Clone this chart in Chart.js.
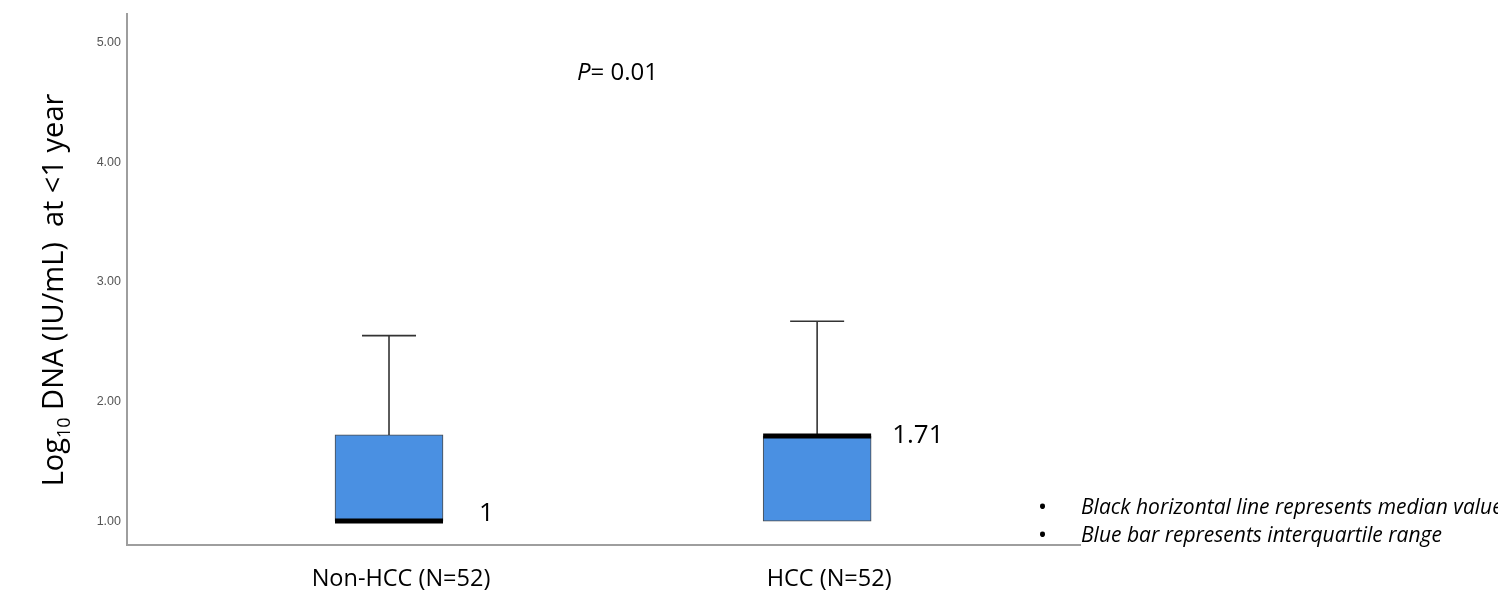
<!DOCTYPE html>
<html lang="en">
<head>
<meta charset="UTF-8">
<title>Log10 DNA at &lt;1 year</title>
<script src="https://cdn.jsdelivr.net/npm/chart.js"></script>
<style>
  html, body { margin: 0; padding: 0; background: #fff; }
  #chart { display: block; }
</style>
</head>
<body>
<canvas id="chart" width="1498" height="598"></canvas>
<script>
  // data
  const groups = ['Non-HCC (N=52)', 'HCC (N=52)'];
  const groupPos = [1, 2];
  const q1 = [1.00, 1.00];
  const q3 = [1.72, 1.71];
  const medians = [1.00, 1.71];
  const upper = [2.55, 2.67];
  const medianLabels = ['1', '1.71'];
  const yTicks = [1, 2, 3, 4, 5];
  const pValue = '0.01';
  const notes = ['Black horizontal line represents median value', 'Blue bar represents interquartile range'];

  const FONT = '"Open Sans", sans-serif';
  const LINE = '#333';

  const annotations = {
    id: 'annotations',
    afterDatasetsDraw(chart) {
      const { ctx, chartArea, scales: { x, y } } = chart;
      ctx.save();
      ctx.fillStyle = '#000';
      ctx.textBaseline = 'alphabetic';

      // median value labels next to the boxes
      const nudge = [[90, 0], [75, 7]];
      ctx.font = '26px ' + FONT;
      medianLabels.forEach((t, i) => {
        ctx.fillText(t, x.getPixelForValue(groupPos[i]) + nudge[i][0], y.getPixelForValue(medians[i]) + nudge[i][1]);
      });

      // P value
      let px = chartArea.left + 450;
      ctx.font = 'italic 24px ' + FONT;
      ctx.fillText('P', px, 80);
      px += ctx.measureText('P').width;
      ctx.font = '24px ' + FONT;
      ctx.fillText('= ' + pValue, px, 80);

      // y axis title with subscript
      ctx.save();
      ctx.translate(63, 290);
      ctx.rotate(-Math.PI / 2);
      const big = '29px ' + FONT, small = '18px ' + FONT;
      const parts = [['Log', big, 0], ['10', small, 7], [' DNA (IU/mL)  at <1 year', big, 0]];
      let total = 0;
      parts.forEach(p => { ctx.font = p[1]; total += ctx.measureText(p[0]).width; });
      let tx = -total / 2;
      parts.forEach(p => {
        ctx.font = p[1];
        ctx.fillText(p[0], tx, p[2]);
        tx += ctx.measureText(p[0]).width;
      });
      ctx.restore();

      // notes
      notes.forEach((n, i) => {
        ctx.font = '24px ' + FONT;
        ctx.fillText('•', 1038, 515 + i * 28);
        ctx.font = 'italic 21px ' + FONT;
        ctx.fillText(n, 1081, 514 + i * 28);
      });
      ctx.restore();
    }
  };

  const pts = (vals) => groupPos.map((g, i) => ({ x: g, y: vals[i] }));

  const datasets = [
    {
      type: 'bar',
      data: groupPos.map((g, i) => ({ x: g, y: [q1[i], q3[i]] })),
      backgroundColor: '#4a90e2',
      borderColor: '#4a4a4a',
      borderWidth: 1,
      borderSkipped: false,
      barThickness: 108,
      order: 4
    },
    ...groupPos.map((g, i) => ({
      type: 'line',
      data: [{ x: g, y: q3[i] }, { x: g, y: upper[i] }],
      borderColor: LINE,
      borderWidth: 1.6,
      pointRadius: 0,
      order: 3
    })),
    {
      type: 'line',
      data: pts(upper),
      showLine: false,
      pointStyle: 'line',
      pointRadius: 27,
      pointBorderWidth: 1.6,
      pointBorderColor: LINE,
      order: 2
    },
    {
      type: 'line',
      data: pts(medians),
      showLine: false,
      pointStyle: 'line',
      pointRadius: 54,
      pointBorderWidth: 5,
      pointBorderColor: '#000',
      order: 1
    }
  ];

  new Chart(document.getElementById('chart'), {
    type: 'bar',
    data: { datasets },
    options: {
      responsive: false,
      animation: false,
      events: [],
      layout: { autoPadding: false, padding: { top: 12, right: 418, bottom: 0, left: 0 } },
      plugins: { legend: { display: false }, tooltip: { enabled: false } },
      scales: {
        x: {
          type: 'linear',
          offset: false,
          min: 0.388,
          max: 2.614,
          grid: { display: false, drawTicks: false },
          border: { color: '#9e9e9e', width: 2 },
          afterBuildTicks: s => { s.ticks = groupPos.map(v => ({ value: v })); },
          afterFit: s => { s.height = 53; },
          ticks: {
            autoSkip: false,
            maxRotation: 0,
            padding: 20,
            labelOffset: 12,
            color: '#000',
            font: { family: 'Open Sans', size: 23.5 },
            callback: (v, i) => groups[i]
          }
        },
        y: {
          min: 0.8,
          max: 5.242,
          grid: { display: false, drawTicks: false },
          border: { color: '#9e9e9e', width: 2 },
          afterBuildTicks: s => { s.ticks = yTicks.map(v => ({ value: v })); },
          afterFit: s => { s.width = 127; },
          ticks: {
            padding: 6,
            color: '#555',
            font: { family: 'Liberation Sans', size: 12.5 },
            callback: v => v.toFixed(2)
          }
        }
      }
    },
    plugins: [annotations]
  });
</script>
</body>
</html>
